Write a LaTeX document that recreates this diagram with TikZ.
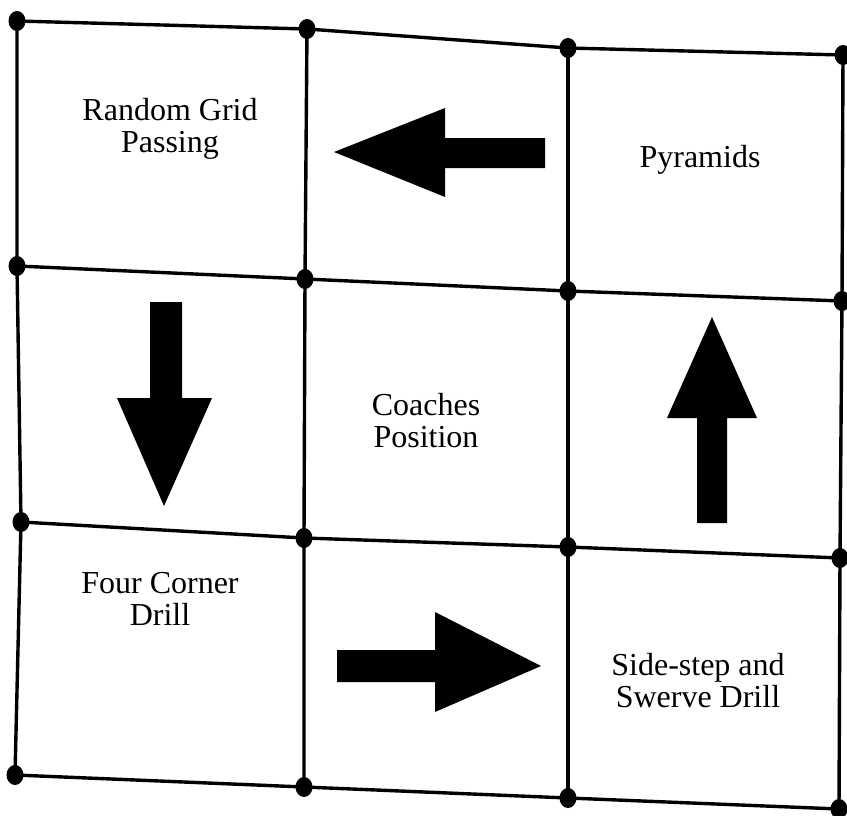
\documentclass[tikz,border=0pt]{standalone}
\usepackage{fontspec}
\setmainfont{Liberation Serif}
\begin{document}
\begin{tikzpicture}[x=1pt,y=-1pt,
  gridline/.style={line width=3.4pt,black},
  dot/.style={fill=black,draw=none},
  bigarrow/.style={fill=black,draw=none},
  lbl/.style={align=center,font=\fontsize{32}{32}\selectfont,inner sep=0pt}]
\useasboundingbox (0,0) rectangle (847,816);
% grid points
\coordinate (a1) at (17,21);  \coordinate (a2) at (307,29);  \coordinate (a3) at (568,48);  \coordinate (a4) at (843,55);
\coordinate (b1) at (17,266); \coordinate (b2) at (305,279); \coordinate (b3) at (568,291); \coordinate (b4) at (842,301);
\coordinate (c1) at (21,522); \coordinate (c2) at (304,538); \coordinate (c3) at (568,547); \coordinate (c4) at (840,558);
\coordinate (d1) at (15,775); \coordinate (d2) at (304,787); \coordinate (d3) at (568,798); \coordinate (d4) at (839,809);
% horizontal lines
\draw[gridline] (a1) -- (a2) -- (a3) -- (a4);
\draw[gridline] (b1) -- (b2) -- (b3) -- (b4);
\draw[gridline] (c1) -- (c2) -- (c3) -- (c4);
\draw[gridline] (d1) -- (d2) -- (d3) -- (d4);
% vertical lines
\draw[gridline] (a1) -- (b1) -- (c1) -- (d1);
\draw[gridline] (a2) -- (b2) -- (c2) -- (d2);
\draw[gridline] (a3) -- (b3) -- (c3) -- (d3);
\draw[gridline] (a4) -- (b4) -- (c4) -- (d4);
% dots
\foreach \p in {a1,a2,a3,a4,b1,b2,b3,b4,c1,c2,c3,c4,d1,d2,d3,d4}
  \fill[dot] (\p) ellipse [x radius=8.5pt, y radius=10pt];
% arrows
\fill[bigarrow] (334,152) -- (445,108) -- (445,138) -- (545,138) -- (545,168) -- (445,168) -- (445,197) -- cycle;
\fill[bigarrow] (150,302) -- (182,302) -- (182,398) -- (212,398) -- (164,506) -- (117,398) -- (150,398) -- cycle;
\fill[bigarrow] (712,317) -- (757,418) -- (727,418) -- (727,523) -- (697,523) -- (697,418) -- (667,418) -- cycle;
\fill[bigarrow] (337,650) -- (435,650) -- (435,612) -- (541,666) -- (435,712) -- (435,682) -- (337,682) -- cycle;
% labels
\node[lbl] (t1) at (170,129) {Random Grid\\Passing};
\node[lbl] (t2) at (700,160) {Pyramids};
\node[lbl] (t3) at (426,421) {Coaches\\Position};
\node[lbl] (t4) at (160,599) {Four Corner\\Drill};
\node[lbl] (t5) at (698,681) {Side-step and\\Swerve Drill};
\end{tikzpicture}
\end{document}
